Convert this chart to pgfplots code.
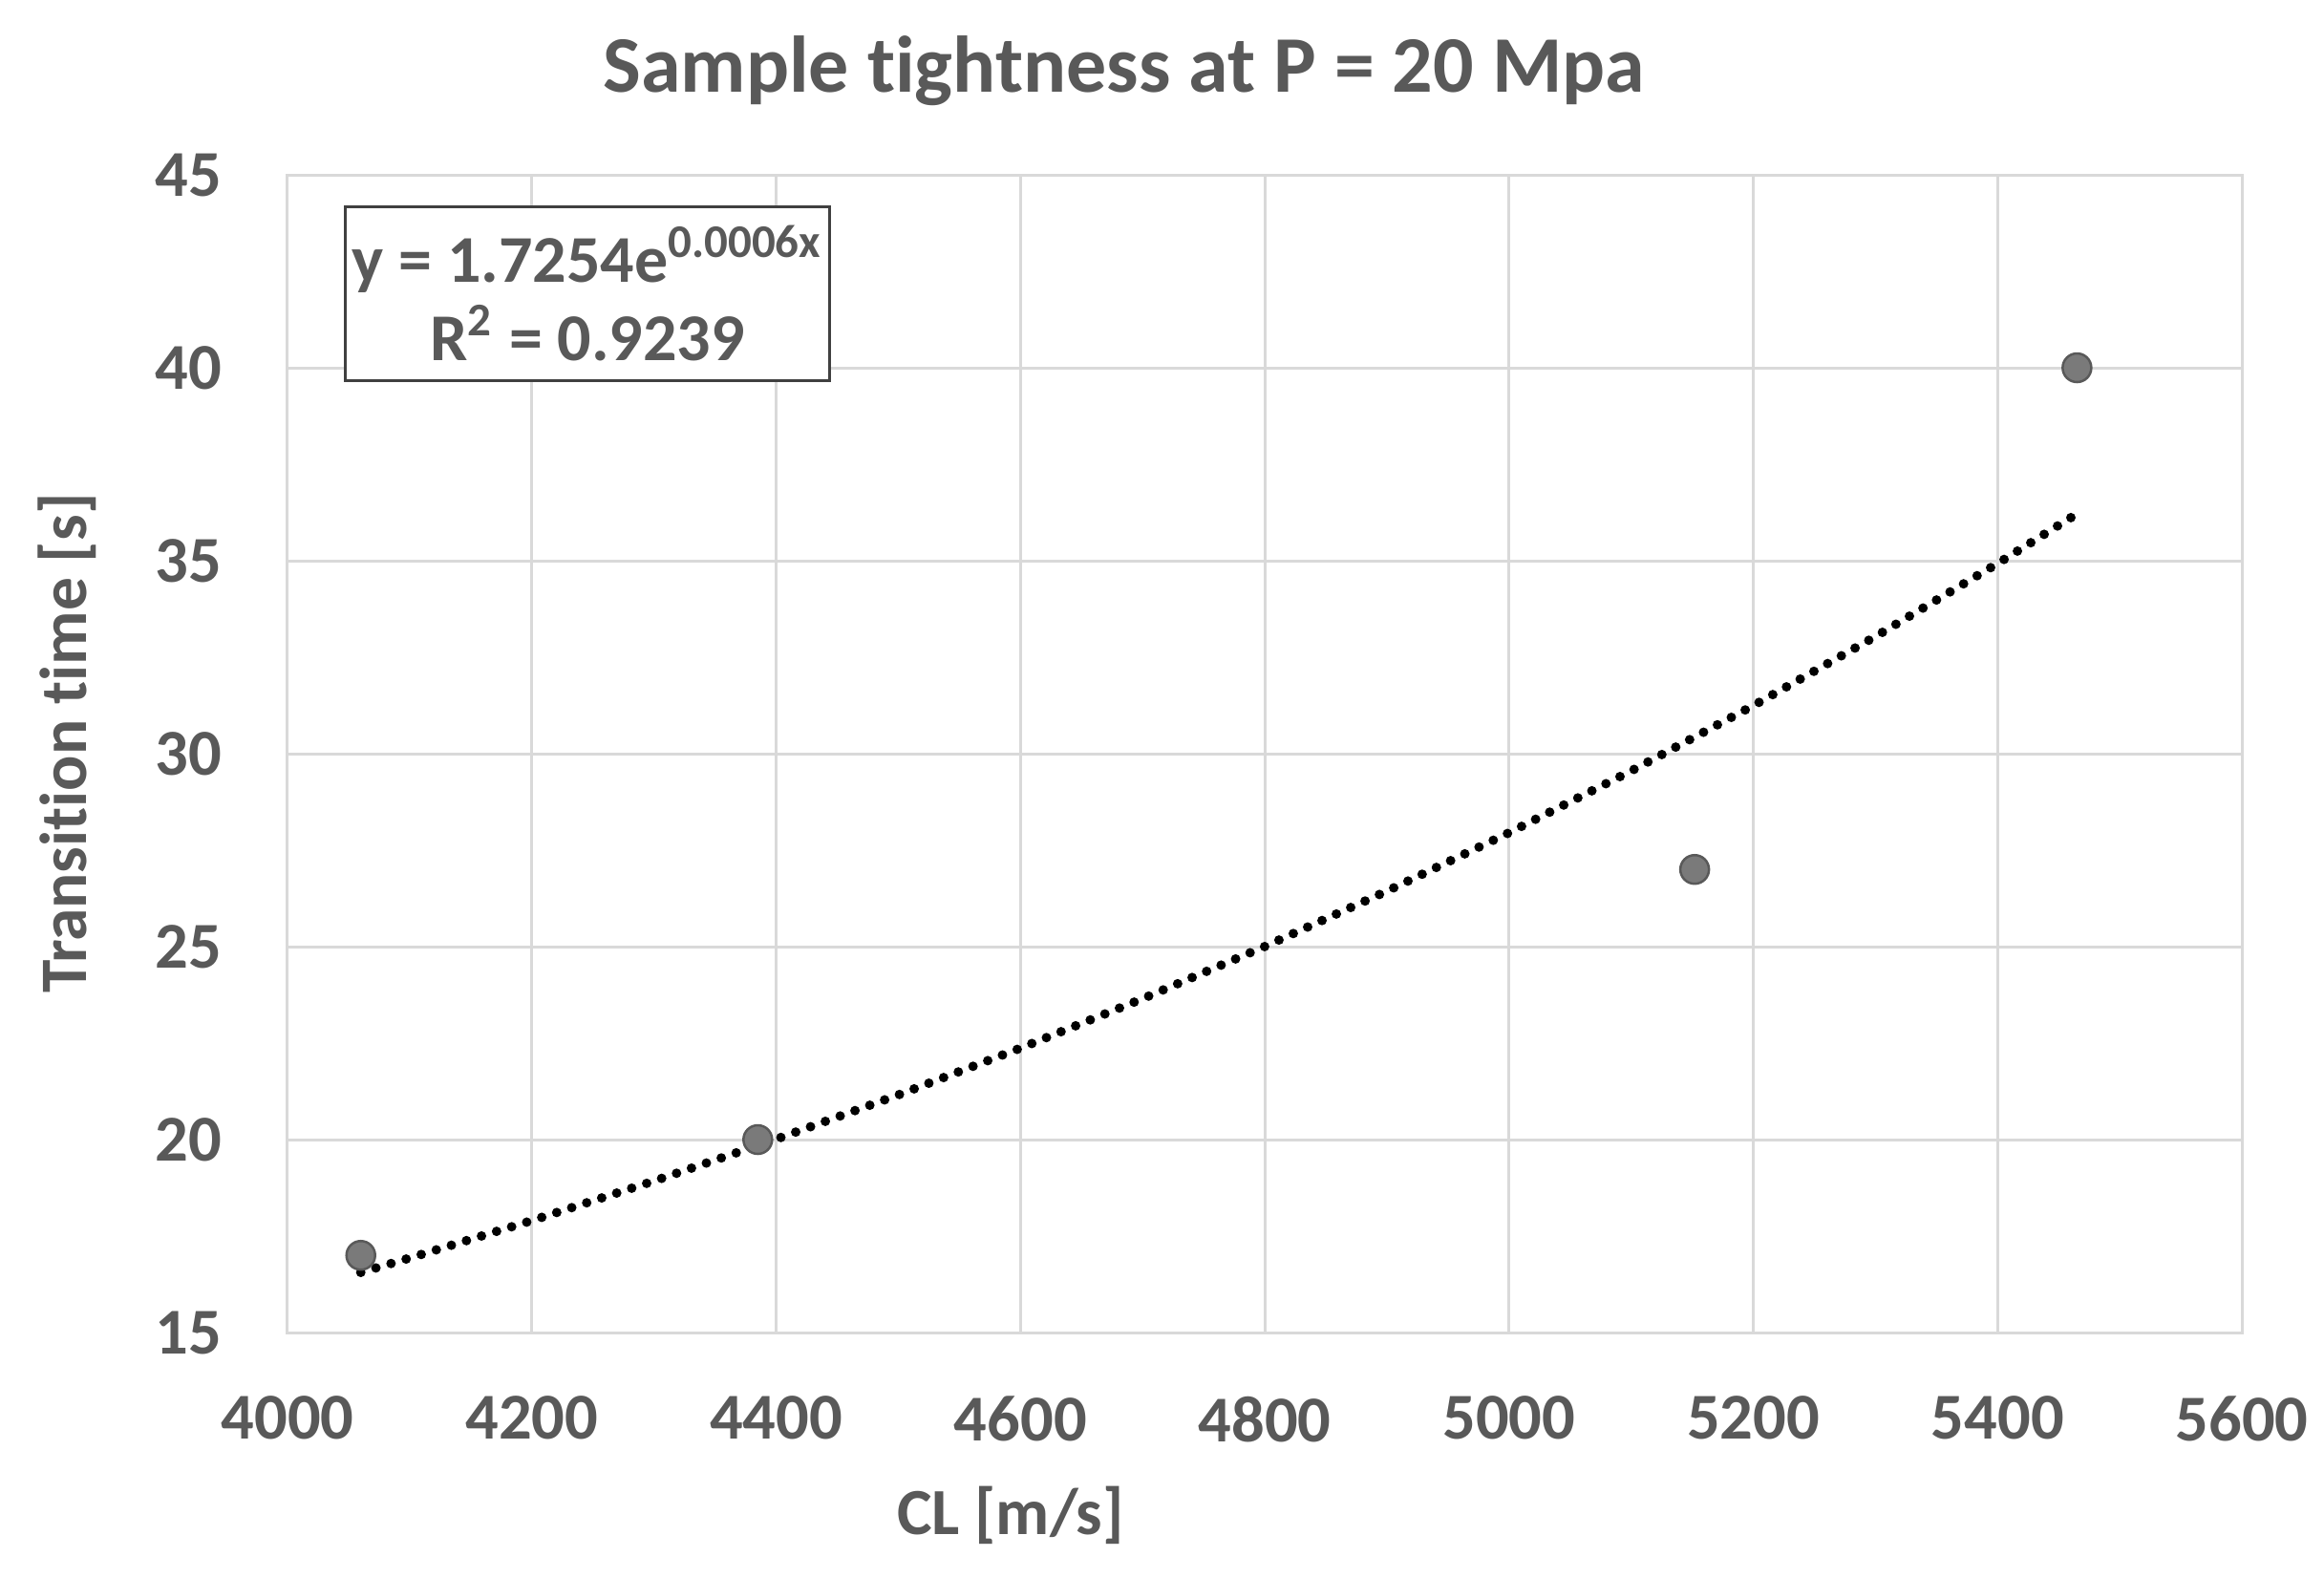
\documentclass[border=0pt]{standalone}
\usepackage{fontspec}
\setmainfont{Carlito}[Ligatures={NoCommon}]
\usepackage{pgfplots}
\pgfplotsset{compat=1.18}
\definecolor{txt}{HTML}{595959}
\definecolor{grd}{HTML}{D9D9D9}
\definecolor{mk}{HTML}{7A7A7A}
\definecolor{boxc}{HTML}{404040}
\begin{document}
\begin{tikzpicture}
\begin{axis}[
  name=ax,
  width=409.2pt, height=242.4pt, scale only axis,
  xmin=4000, xmax=5600, ymin=15, ymax=45,
  xtick={4000,4200,...,5600}, ytick={15,20,...,45},
  grid=major, major grid style={grd, line width=0.6pt},
  axis line style={grd, line width=0.6pt},
  tick style={draw=none},
  /pgf/number format/assume math mode=true,
  /pgf/number format/1000 sep={},
  ticklabel style={font=\bfseries\fontsize{13.7}{16}\selectfont, text=txt, inner sep=0pt},
  xticklabel style={anchor=north, yshift=-13.2pt},
  yticklabel style={anchor=east, xshift=-13.6pt},
  title={Sample tightness at P = 20 Mpa},
  title style={at={(axis description cs:0.428,1.0465)}, anchor=base, font=\bfseries\fontsize{16.8}{20}\selectfont, text=txt, inner sep=0pt},
  xlabel={CL [m/s]},
  xlabel style={at={(axis description cs:0.37,-0.1741)}, anchor=base, font=\bfseries\fontsize{13.8}{16}\selectfont, text=txt, inner sep=0pt},
  ylabel={Transition time [s]},
  ylabel style={at={(axis description cs:-0.1031,0.509)}, rotate=0, anchor=base, font=\bfseries\fontsize{13.9}{16}\selectfont, text=txt, inner sep=0pt},
  clip=false,
]
\addplot[only marks, mark=*, mark size=3pt, mark options={fill=mk, draw=txt, line width=0.5pt}]
  coordinates {(4060,17) (4385,20) (5152,27) (5465,40)};
\addplot[black, line width=2pt, line cap=round, dash pattern=on 0pt off 3.3pt]
  coordinates {
  (4060,16.558) (4100,16.931) (4200,17.901) (4300,18.927) (4400,20.010)
  (4500,21.157) (4600,22.369) (4700,23.650) (4800,25.003) (4900,26.438)
  (5000,27.951) (5100,29.552) (5200,31.245) (5300,33.036) (5400,34.928)
  (5465,36.216)};
\node[draw=boxc, line width=0.7pt, fill=white, anchor=north west, minimum width=101.4pt, minimum height=36.4pt,
  inner sep=0pt, align=center, text=txt, font=\bfseries\fontsize{14}{16.4}\selectfont]
  at (rel axis cs:0.0288,0.974) {y = 1.7254e\textsuperscript{0.0006x}\\R\textsuperscript{2} = 0.9239};
\end{axis}
\pgfresetboundingbox
\path[use as bounding box] ([shift={(-60.2pt,-51.2pt)}]ax.south west) rectangle ([shift={(17.2pt,36.6pt)}]ax.north east);
\end{tikzpicture}
\end{document}
